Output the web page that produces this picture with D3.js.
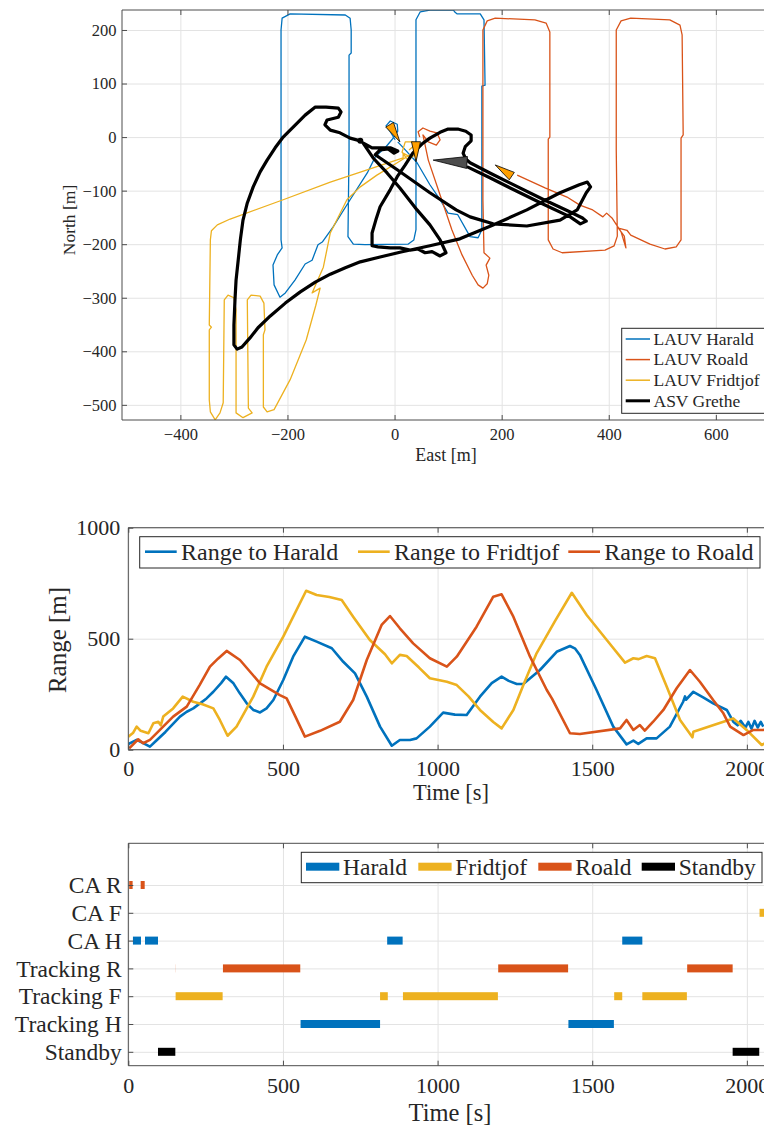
<!DOCTYPE html>
<html>
<head>
<meta charset="utf-8">
<script src="https://cdn.jsdelivr.net/npm/d3@7"></script>
<style>
  body { margin: 0; background: #fff; }
  text { font-family: 'Liberation Serif', 'Times New Roman', serif; fill: #262626; }
</style>
</head>
<body>
<svg id="chart" width="764" height="1129"></svg>
<script>
// ---- top panel: tracks, [east, north] in metres ----
const haraldTrack = [[1,-5],[-8,10],[-16,21],[-8,30],[5,24],[6,11],[-5,-5],[-16,-18],[-36,-37],[-51,-67],[-83,-117],[-115,-168],[-135,-196],[-143,-201],[-154,-230],[-167,-237],[-186,-267],[-204,-291],[-214,-299],[-225,-276],[-227,-239],[-219,-220],[-210,-207],[-212,-192],[-212,-24],[-212,200],[-210,222],[-195,230],[-92,228],[-83,222],[-81,200],[-81,157],[-85,153],[-85,-24],[-87,-186],[-77,-200],[-55,-201],[25,-200],[36,-192],[40,-173],[40,69],[40,219],[48,234],[66,237],[110,237],[113,233],[117,230],[160,230],[167,219],[169,97],[163,95],[163,-173],[156,-188],[141,-186],[118,-145],[100,-142],[85,-117],[66,-89],[42,-48],[20,-24],[6,-9]];
const roaldTrack = [[47,0],[44,10],[53,17],[66,11],[79,8],[85,-5],[78,-15],[63,-9],[53,4],[63,-43],[85,-108],[107,-173],[126,-220],[145,-258],[156,-276],[165,-282],[173,-274],[176,-258],[171,-239],[178,-226],[167,-216],[165,-117],[165,69],[165,200],[173,217],[188,222],[262,219],[283,213],[290,196],[290,0],[287,-4],[287,-192],[296,-209],[313,-216],[393,-211],[410,-203],[416,-185],[414,-24],[414,200],[423,217],[441,222],[514,219],[533,209],[537,191],[539,4],[535,-2],[535,-192],[526,-205],[505,-209],[477,-200],[441,-183],[434,-174],[418,-170],[429,-185],[432,-207],[423,-177],[406,-151],[396,-142],[389,-149],[370,-136],[346,-127],[322,-112],[281,-95],[229,-71]];
const fridtjofTrack = [[27,-24],[38,-15],[38,-33],[25,-43],[14,-28],[20,-9],[33,-9],[40,-24],[29,-37],[16,-30],[16,-39],[-120,-84],[-208,-117],[-307,-153],[-331,-164],[-342,-175],[-344,-192],[-346,-351],[-342,-355],[-346,-360],[-346,-491],[-344,-513],[-335,-528],[-326,-515],[-320,-496],[-318,-304],[-311,-295],[-300,-300],[-296,-323],[-296,-515],[-283,-524],[-266,-515],[-273,-506],[-275,-304],[-268,-295],[-251,-297],[-244,-310],[-242,-360],[-245,-369],[-245,-504],[-238,-513],[-225,-509],[-195,-453],[-165,-379],[-147,-314],[-139,-282],[-154,-291],[-133,-243],[-120,-179],[-89,-117],[-64,-93],[-33,-71],[5,-48],[29,-33]];
const gretheTrack = [[-64,-7],[-83,-2],[-102,8],[-120,13],[-130,23],[-126,32],[-105,37],[-100,47],[-105,54],[-128,56],[-148,56],[-167,41],[-180,28],[-195,13],[-208,0],[-223,-20],[-238,-43],[-251,-65],[-264,-93],[-275,-123],[-283,-155],[-288,-192],[-292,-230],[-296,-267],[-298,-304],[-300,-351],[-300,-388],[-294,-396],[-285,-392],[-270,-375],[-255,-356],[-232,-334],[-204,-310],[-176,-289],[-148,-271],[-120,-256],[-92,-244],[-64,-233],[-27,-224],[10,-215],[66,-203],[122,-190],[184,-164],[247,-136],[309,-104],[345,-89],[360,-84],[366,-93],[358,-104],[341,-136],[309,-155],[247,-166],[184,-162],[141,-149],[115,-136],[66,-104],[5,-61],[-36,-33],[-27,-24],[-12,-22],[-1,-30],[6,-26],[-8,-20],[-42,-20],[-59,-11],[-40,-39],[-14,-67],[10,-95],[42,-136],[66,-164],[85,-192],[96,-216],[85,-222],[70,-214],[57,-216],[44,-209],[29,-211],[10,-207],[-8,-207],[-31,-205],[-42,-203],[-42,-179],[-35,-155],[-27,-130],[-8,-98],[5,-74],[20,-52],[34,-30],[51,-13],[66,-2],[85,9],[100,15],[118,15],[133,11],[143,4],[143,-7],[132,-18],[128,-30],[133,-41],[141,-48],[178,-67],[216,-86],[277,-116],[328,-140],[351,-151],[358,-157],[347,-162],[328,-149],[277,-125],[216,-95],[178,-76],[137,-56]];
const trackNames = ['LAUV Harald', 'LAUV Roald', 'LAUV Fridtjof', 'ASV Grethe'];
// last position (tip) and heading in degrees of each vehicle: Harald, Fridtjof, Roald, Grethe
const markerTips = [[10,-9],[40,-46],[188,-52],[72,-43]];
const markerHeadings = [149, 180, 304, 274];
const eastTicks = [-400,-200,0,200,400,600];
const northTicks = [-500,-400,-300,-200,-100,0,100,200];

// ---- middle panel: range [m] over time [s] ----
const rangeHarald = [[0,25],[27,44],[48,30],[70,14],[90,40],[120,80],[167,149],[189,171],[210,186],[253,231],[275,261],[300,300],[316,329],[340,299],[360,255],[383,209],[404,179],[426,168],[447,186],[469,224],[501,314],[533,419],[571,509],[609,487],[658,457],[695,396],[733,344],[771,239],[814,104],[852,18],[878,44],[911,44],[932,51],[975,104],[1018,167],[1056,158],[1094,156],[1137,239],[1175,300],[1207,329],[1230,310],[1256,296],[1277,296],[1331,359],[1385,441],[1428,467],[1445,455],[1460,427],[1514,269],[1568,104],[1611,24],[1633,41],[1649,26],[1676,51],[1708,51],[1751,104],[1794,216],[1800,240],[1803,225],[1827,261],[1860,235],[1891,209],[1935,179],[1956,126],[1970,110],[1980,130],[1995,100],[2005,125],[2015,95],[2025,130],[2035,100],[2045,125],[2053,104]];
const rangeFridtjof = [[0,59],[15,75],[27,104],[40,85],[65,74],[81,119],[97,126],[105,110],[113,149],[145,186],[176,239],[210,216],[240,205],[275,186],[296,134],[321,63],[350,104],[404,239],[447,374],[501,509],[575,716],[609,697],[650,688],[690,674],[727,599],[781,494],[830,430],[852,389],[878,427],[900,422],[940,370],[975,322],[1030,306],[1062,291],[1100,240],[1137,179],[1180,125],[1207,96],[1245,179],[1280,300],[1320,434],[1380,580],[1434,707],[1482,607],[1547,494],[1606,392],[1633,412],[1650,408],[1676,422],[1703,412],[1741,284],[1784,134],[1824,56],[1827,81],[1956,141],[1999,89],[2048,21],[2060,30]];
const rangeRoald = [[3,6],[32,47],[48,29],[70,44],[145,149],[189,194],[230,290],[264,374],[290,410],[318,445],[361,404],[426,299],[490,246],[512,231],[540,150],[571,59],[620,85],[684,126],[727,224],[771,404],[819,562],[846,602],[878,547],[921,479],[975,412],[1030,374],[1062,419],[1126,554],[1180,689],[1207,700],[1245,599],[1299,419],[1353,269],[1370,230],[1428,74],[1460,71],[1590,96],[1611,134],[1633,89],[1654,111],[1670,86],[1697,126],[1730,179],[1773,277],[1816,359],[1848,306],[1891,224],[1924,164],[1946,104],[1989,66],[2021,89],[2053,89],[2070,95]];
const rangeNames = ['Range to Harald', 'Range to Fridtjof', 'Range to Roald'];
const timeTicks = [0, 500, 1000, 1500, 2000];
const rangeTicks = [0, 500, 1000];

// ---- bottom panel: modes, [mode, start s, end s] ----
const modeNames = ['Standby', 'Tracking H', 'Tracking F', 'Tracking R', 'CA H', 'CA F', 'CA R'];
const haraldModes = [['CA H',15,41],['CA H',54,96],['CA H',837,887],['CA H',1597,1662],['Tracking H',557,814],['Tracking H',1423,1570]];
const fridtjofModes = [['CA F',2041,2080],['Tracking F',153,305],['Tracking F',814,839],['Tracking F',888,1195],['Tracking F',1571,1597],['Tracking F',1662,1806]];
const roaldModes = [['CA R',3,14],['CA R',40,53],['Tracking R',152,152.4],['Tracking R',306,556],['Tracking R',1196,1422],['Tracking R',1807,1954]];
const standbyModes = [['Standby',96,152],['Standby',1954,2040]];
const modeLegend = ['Harald', 'Fridtjof', 'Roald', 'Standby'];

const blue = '#0072BD', orange = '#D95319', yellow = '#EDB120';
const axisColor = '#4d4d4d', gridColor = '#e3e3e3';

const svg = d3.select('#chart');

function axesFrame(g, x, y, xTicks, yTicks, o) {
  const [x0, x1] = x.range();
  const [yb, yt] = y.range();
  g.append('g').attr('transform', `translate(${x0 + 0.5},${yb - 0.5})`).attr('transform', `translate(0,${yb})`)
    .call(d3.axisBottom(x).tickValues(xTicks).tickSize(-(yb - yt)).tickFormat(''))
    .call(a => a.select('.domain').remove())
    .call(a => a.selectAll('line').attr('stroke', gridColor));
  g.append('g').attr('transform', `translate(${x0},0)`)
    .call(d3.axisLeft(y).tickValues(yTicks).tickSize(-(x1 - x0)).tickFormat(''))
    .call(a => a.select('.domain').remove())
    .call(a => a.selectAll('line').attr('stroke', gridColor));
}

function axesTicks(g, x, y, xTicks, yTicks, o) {
  const [x0, x1] = x.range();
  const [yb, yt] = y.range();
  const style = a => {
    a.attr('font-family', null).attr('font-size', o.fs).attr('color', '#262626');
    a.select('.domain').remove();
    a.selectAll('line').attr('stroke', axisColor);
  };
  g.append('g').attr('transform', `translate(0,${yb})`)
    .call(d3.axisBottom(x).tickValues(xTicks).tickSize(-5).tickFormat(o.xFormat || d3.format('d')))
    .call(style)
    .call(a => a.selectAll('text').attr('y', o.xTextY).attr('dy', 0));
  g.append('g').attr('transform', `translate(0,${yt})`)
    .call(d3.axisTop(x).tickValues(xTicks).tickSize(-5).tickFormat(''))
    .call(style);
  g.append('g').attr('transform', `translate(${x0},0)`)
    .call(d3.axisLeft(y).tickValues(yTicks).tickSize(-5).tickFormat(o.yFormat || d3.format('d')))
    .call(style)
    .call(a => a.selectAll('text').attr('x', -o.yTextX).attr('dy', '0.33em').attr('font-size', o.yfs || o.fs));
  g.append('path')
    .attr('d', `M${x0},${yt}H${x1}V${yb}H${x0}Z`)
    .attr('fill', 'none').attr('stroke', axisColor).attr('stroke-width', 1);
}

function clipFor(id, x, y) {
  const [x0, x1] = x.range();
  const [yb, yt] = y.range();
  svg.append('clipPath').attr('id', id).append('rect')
    .attr('x', x0).attr('y', yt).attr('width', x1 - x0).attr('height', yb - yt);
  return `url(#${id})`;
}

// ================= top: map =================
const mapX = d3.scaleLinear().domain([-509, 700]).range([122, 769.4]);
const mapY = d3.scaleLinear().domain([-528.3, 237.3]).range([420, 10]);
const mapG = svg.append('g');
axesFrame(mapG, mapX, mapY, eastTicks, northTicks, {});

const mapLine = d3.line().x(d => mapX(d[0])).y(d => mapY(d[1]));
const mapData = mapG.append('g').attr('clip-path', clipFor('clipMap', mapX, mapY));
const tracks = [
  { pts: haraldTrack, color: blue, w: 1.3 },
  { pts: roaldTrack, color: orange, w: 1.3 },
  { pts: fridtjofTrack, color: yellow, w: 1.3 },
];
tracks.forEach(t => {
  mapData.append('path').attr('d', mapLine(t.pts))
    .attr('fill', 'none').attr('stroke', t.color).attr('stroke-width', t.w)
    .attr('stroke-linejoin', 'round');
});
mapData.append('path').attr('d', mapLine(gretheTrack))
  .attr('fill', 'none').attr('stroke', '#000').attr('stroke-width', 3.2)
  .attr('stroke-linejoin', 'round').attr('stroke-linecap', 'round');
mapData.append('circle')
  .attr('cx', mapX(gretheTrack[0][0])).attr('cy', mapY(gretheTrack[0][1]))
  .attr('r', 3).attr('fill', '#000');

// heading arrows
markerTips.forEach((tip, i) => {
  const big = i === 3;
  const len = big ? 34 : 20, wid = big ? 12 : 9;
  const a = markerHeadings[i] * Math.PI / 180;
  const dx = Math.sin(a), dy = -Math.cos(a);
  const tx = mapX(tip[0]), ty = mapY(tip[1]);
  const bx = tx - len * dx, by = ty - len * dy;
  const px = -dy * wid / 2, py = dx * wid / 2;
  mapData.append('path')
    .attr('d', `M${tx},${ty}L${bx + px},${by + py}L${bx - px},${by - py}Z`)
    .attr('fill', big ? '#4d4d4d' : '#FF9F00')
    .attr('stroke', '#000').attr('stroke-width', 0.8);
});

axesTicks(mapG, mapX, mapY, eastTicks, northTicks, { fs: 16.5, xTextY: 20, yTextX: 5.5 });

mapG.append('text').attr('x', 446).attr('y', 461).attr('text-anchor', 'middle')
  .attr('font-size', 18).text('East [m]');
mapG.append('text').attr('transform', 'translate(75,220) rotate(-90)').attr('text-anchor', 'middle')
  .attr('font-size', 17.5).text('North [m]');

// legend
const mapLeg = mapG.append('g');
mapLeg.append('rect').attr('x', 621.7).attr('y', 328.3).attr('width', 150).attr('height', 85)
  .attr('fill', '#fff').attr('stroke', '#262626').attr('stroke-width', 1);
const legColors = [blue, orange, yellow, '#000'];
trackNames.forEach((name, i) => {
  const yy = 339 + i * 20.6;
  mapLeg.append('line').attr('x1', 625.7).attr('x2', 650).attr('y1', yy).attr('y2', yy)
    .attr('stroke', legColors[i]).attr('stroke-width', i === 3 ? 3 : 1.5);
  mapLeg.append('text').attr('x', 653.5).attr('y', yy + 5.8).attr('font-size', 17.5).text(name);
});

// ================= middle: ranges =================
const rX = d3.scaleLinear().domain([0, 2100]).range([128.3, 777.8]);
const rY = d3.scaleLinear().domain([0, 1000]).range([749.7, 527.7]);
const rG = svg.append('g');
axesFrame(rG, rX, rY, timeTicks, rangeTicks, {});
const rLine = d3.line().x(d => rX(d[0])).y(d => rY(d[1]));
const rData = rG.append('g').attr('clip-path', clipFor('clipRange', rX, rY));
const rangeSeries = [rangeHarald, rangeFridtjof, rangeRoald];
const rangeColors = [blue, yellow, orange];
rangeSeries.forEach((s, i) => {
  rData.append('path').attr('d', rLine(s))
    .attr('fill', 'none').attr('stroke', rangeColors[i]).attr('stroke-width', 2.6)
    .attr('stroke-linejoin', 'round');
});
axesTicks(rG, rX, rY, timeTicks, rangeTicks, { fs: 22, xTextY: 26.5, yTextX: 8 });
rG.append('text').attr('x', 451).attr('y', 800).attr('text-anchor', 'middle')
  .attr('font-size', 22.5).text('Time [s]');
rG.append('text').attr('transform', 'translate(66,640) rotate(-90)').attr('text-anchor', 'middle')
  .attr('font-size', 25).text('Range [m]');

const rLeg = rG.append('g');
rLeg.append('rect').attr('x', 139.7).attr('y', 536.7).attr('width', 620.3).attr('height', 31.3)
  .attr('fill', '#fff').attr('stroke', '#262626').attr('stroke-width', 1);
const rLegX = [145, 358, 568.3];
rangeNames.forEach((name, i) => {
  rLeg.append('line').attr('x1', rLegX[i]).attr('x2', rLegX[i] + 31.7).attr('y1', 551.7).attr('y2', 551.7)
    .attr('stroke', rangeColors[i]).attr('stroke-width', 2.6);
  rLeg.append('text').attr('x', rLegX[i] + 36).attr('y', 559.5).attr('font-size', 24).text(name);
});

// ================= bottom: modes =================
const mX = d3.scaleLinear().domain([0, 2100]).range([128.3, 777.8]);
const mY = d3.scaleLinear().domain([0.5, 8.5]).range([1065.7, 843.3]);
const modeIdx = name => modeNames.indexOf(name) + 1;
const modeTicks = modeNames.map((d, i) => i + 1);
const mG = svg.append('g');
axesFrame(mG, mX, mY, timeTicks, modeTicks, {});
const mData = mG.append('g').attr('clip-path', clipFor('clipMode', mX, mY));
const modeSeries = [haraldModes, fridtjofModes, roaldModes, standbyModes];
const modeColors = [blue, yellow, orange, '#000'];
const barH = 8;
modeSeries.forEach((s, i) => {
  mData.selectAll(null).data(s).enter().append('rect')
    .attr('x', d => mX(d[1]))
    .attr('width', d => mX(d[2]) - mX(d[1]))
    .attr('y', d => mY(modeIdx(d[0])) - barH / 2)
    .attr('height', barH)
    .attr('fill', modeColors[i]);
});
axesTicks(mG, mX, mY, timeTicks, modeTicks, {
  fs: 22, yfs: 23.5, xTextY: 27.5, yTextX: 6.6, yFormat: i => modeNames[i - 1]
});
mG.append('text').attr('x', 450).attr('y', 1121).attr('text-anchor', 'middle')
  .attr('font-size', 24.5).text('Time [s]');

const mLeg = mG.append('g');
mLeg.append('rect').attr('x', 301.3).attr('y', 852.3).attr('width', 460.7).attr('height', 30.4)
  .attr('fill', '#fff').attr('stroke', '#262626').attr('stroke-width', 1);
const mLegX = [306, 418.3, 538.3, 641.7];
modeLegend.forEach((name, i) => {
  mLeg.append('rect').attr('x', mLegX[i]).attr('y', 866.7 - barH / 2).attr('width', 33.3).attr('height', barH)
    .attr('fill', modeColors[i]);
  mLeg.append('text').attr('x', mLegX[i] + 37).attr('y', 874.5).attr('font-size', 23.5).text(name);
});
</script>
</body>
</html>
